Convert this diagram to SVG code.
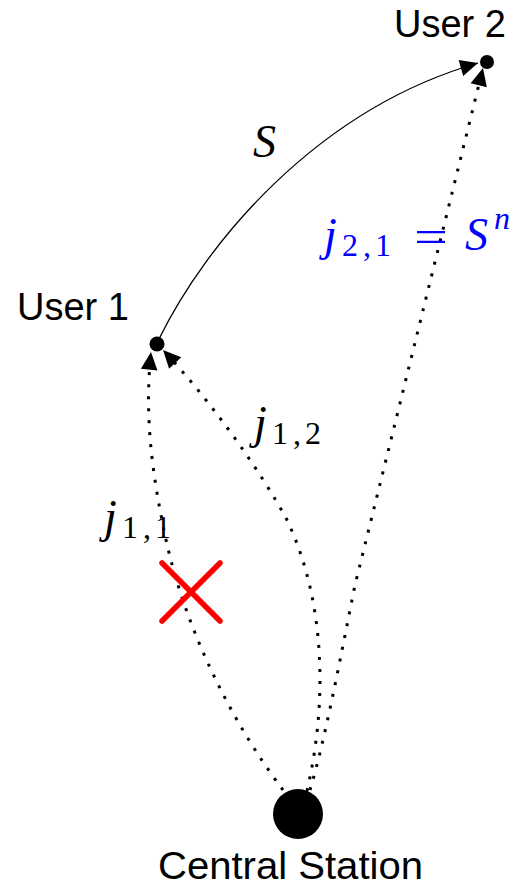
<svg xmlns="http://www.w3.org/2000/svg" width="527" height="890" viewBox="0 0 527 890">
<style>
.lbl{font-family:"Liberation Sans",Arial,sans-serif;font-size:38px;fill:#000}
.mi{font-family:"Liberation Serif","Times New Roman",serif;font-style:italic;font-size:46px}
.sub{font-family:"Liberation Serif","Times New Roman",serif;font-size:32px}
.dot{fill:none;stroke:#000;stroke-width:3;stroke-dasharray:3 9}
.solid{fill:none;stroke:#000;stroke-width:1.3}
</style>
<defs>
<marker id="ah" markerUnits="userSpaceOnUse" markerWidth="20" markerHeight="20" viewBox="-17 -9 18 18" refX="0" refY="0" orient="auto">
<path d="M-16,-7.5 L0,0 L-16,7.5 Z" fill="#000"/>
</marker>
</defs>
<g id="connectors">
<path id="edge-S" class="solid" d="M159,339 C205,245 315,110 478,63" marker-end="url(#ah)"/>
<path id="edge-j11" class="dot" d="M283,790 C230,720 180,620 162,520 C148,450 146,400 151,352" marker-end="url(#ah)"/>
<path id="edge-j12" class="dot" d="M307,791 C328,700 325,600 287,520 C260,470 210,400 163,350" marker-end="url(#ah)"/>
<path id="edge-j21" class="dot" d="M310,790 C325,740 340,660 355,585 L483,68" marker-end="url(#ah)"/>
</g>
<g id="user1">
<circle cx="157" cy="344" r="7.5" fill="#000"/>
<text class="lbl" x="17" y="320">User 1</text>
</g>
<g id="user2">
<circle cx="487" cy="62" r="7" fill="#000"/>
<text class="lbl" x="394" y="37">User 2</text>
</g>
<g id="central-station">
<circle cx="298" cy="814" r="25" fill="#000"/>
<text class="lbl" x="158" y="879" textLength="265" lengthAdjust="spacingAndGlyphs">Central Station</text>
</g>
<g id="cross">
<path d="M162,563 L220,621 M220,563 L162,621" stroke="#ff0000" stroke-width="5.5" stroke-linecap="round" fill="none"/>
</g>
<g id="labels">
<text class="mi" x="253" y="157">S</text>
<text x="104" y="532"><tspan class="mi">j</tspan><tspan class="sub" x="122" y="538">1</tspan><tspan class="sub" x="143" y="538">,</tspan><tspan class="sub" x="155" y="538">1</tspan></text>
<text x="254" y="438"><tspan class="mi">j</tspan><tspan class="sub" x="272" y="444">1</tspan><tspan class="sub" x="293" y="444">,</tspan><tspan class="sub" x="305" y="444">2</tspan></text>
<g fill="#0000ff">
<text x="324" y="250"><tspan class="mi">j</tspan><tspan class="sub" x="342" y="256">2</tspan><tspan class="sub" x="363" y="256">,</tspan><tspan class="sub" x="375" y="256">1</tspan></text>
<text class="sub" x="414" y="252" style="font-size:46px" textLength="34" lengthAdjust="spacingAndGlyphs">=</text>
<text class="mi" x="465" y="250">S</text>
<text class="mi" x="494" y="229" style="font-size:32px">n</text>
</g>
</g>
</svg>
